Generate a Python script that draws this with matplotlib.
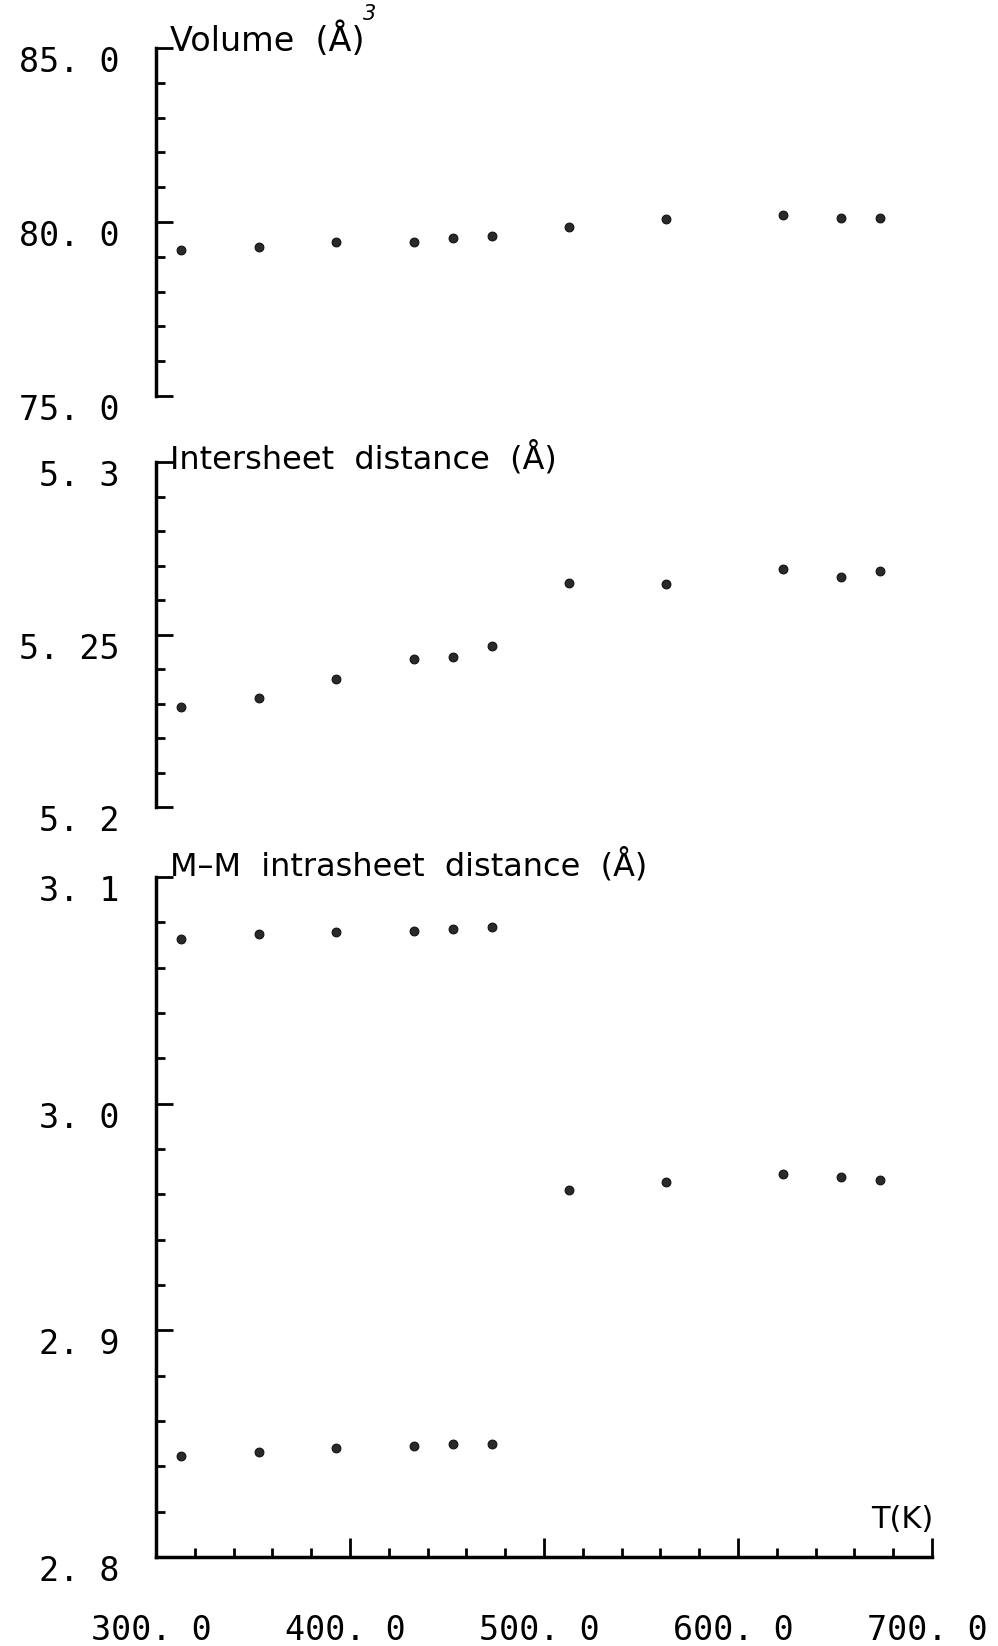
import matplotlib as mpl
mpl.use('Agg')
from matplotlib import pyplot as plt
from matplotlib.ticker import FixedLocator, MultipleLocator, FixedFormatter
from matplotlib.transforms import ScaledTranslation

# temperatures (K)
T = [313, 353, 393, 433, 453, 473, 513, 563, 623, 653, 673]
T_low = [313, 353, 393, 433, 453, 473]
T_high = [513, 563, 623, 653, 673]

# cell volume (A^3)
volume = [79.20, 79.27, 79.42, 79.43, 79.55, 79.59, 79.85, 80.09, 80.21, 80.12, 80.11]
# intersheet distance (A)
intersheet = [5.2289, 5.2317, 5.2372, 5.2429, 5.2436, 5.2466,
              5.2650, 5.2647, 5.2690, 5.2667, 5.2683]
# M-M intrasheet distances (A)
mm_long = [3.0725, 3.0749, 3.0757, 3.0763, 3.0769, 3.0778]
mm_short = [2.8446, 2.8465, 2.8479, 2.8489, 2.8498, 2.8498]
mm_high = [2.9620, 2.9654, 2.9688, 2.9677, 2.9665]

vol_ticks = [75, 80, 85]
vol_labels = ['75. 0', '80. 0', '85. 0']
inter_ticks = [5.2, 5.25, 5.3]
inter_labels = ['5. 2', '5. 25', '5. 3']
mm_ticks = [2.8, 2.9, 3.0, 3.1]
mm_labels = ['2. 8', '2. 9', '3. 0', '3. 1']
t_ticks = [300, 400, 500, 600, 700]
t_labels = ['300. 0', '400. 0', '500. 0', '600. 0', '700. 0']

DPI = 100
fig = plt.figure(figsize=(9.98, 16.46), dpi=DPI)

left, width = 0.1563, 0.7776
ax1 = fig.add_axes([left, 0.7594, width, 0.2114])
ax2 = fig.add_axes([left, 0.5097, width, 0.2096])
ax3 = fig.add_axes([left, 0.0541, width, 0.4131])

tickfont = dict(family='DejaVu Sans Mono', size=24)
mk = dict(ls='none', marker='o', ms=6.3, mfc='#2a2a2a', mec='#111111', mew=0.8)


def style(ax, ticks, labels, minor, lo, hi, xaxis=False):
    ax.set_xlim(300, 700)
    ax.set_ylim(lo, hi)
    for s in ['top', 'right']:
        ax.spines[s].set_visible(False)
    ax.spines['left'].set_linewidth(2.5)
    ax.spines['bottom'].set_linewidth(2.5)
    ax.spines['bottom'].set_visible(xaxis)
    ax.yaxis.set_major_locator(FixedLocator(ticks))
    ax.yaxis.set_major_formatter(FixedFormatter(labels))
    ax.yaxis.set_minor_locator(MultipleLocator(minor))
    ax.tick_params(axis='y', which='major', direction='in', length=12, width=2.0, pad=26)
    ax.tick_params(axis='y', which='minor', direction='in', length=6.5, width=2.0)
    for lab in ax.get_yticklabels():
        lab.set_fontfamily(tickfont['family'])
        lab.set_fontsize(tickfont['size'])
        lab.set_transform(lab.get_transform() + ScaledTranslation(0, -8 / 72, fig.dpi_scale_trans))
    if xaxis:
        ax.xaxis.set_major_locator(FixedLocator(t_ticks))
        ax.xaxis.set_major_formatter(FixedFormatter(t_labels))
        ax.xaxis.set_minor_locator(MultipleLocator(20))
        ax.tick_params(axis='x', which='major', direction='in', length=13.7, width=2.0, pad=41)
        ax.tick_params(axis='x', which='minor', direction='in', length=6.5, width=2.0)
        for lab in ax.get_xticklabels():
            lab.set_fontfamily(tickfont['family'])
            lab.set_fontsize(tickfont['size'])
            lab.set_transform(lab.get_transform() + ScaledTranslation(-3 / 72, 0, fig.dpi_scale_trans))
    else:
        ax.set_xticks([])
        ax.tick_params(axis='x', which='both', length=0)
    ax.patch.set_visible(False)


style(ax1, vol_ticks, vol_labels, 1.0, 75, 85)
style(ax2, inter_ticks, inter_labels, 0.01, 5.2, 5.3)
style(ax3, mm_ticks, mm_labels, 0.02, 2.8, 3.1, xaxis=True)

ax1.plot(T, volume, **mk)
ax2.plot(T, intersheet, **mk)
ax3.plot(T_low, mm_long, **mk)
ax3.plot(T_low, mm_short, **mk)
ax3.plot(T_high, mm_high, **mk)

ax1.annotate('Volume  (Å)', xy=(0, 1), xycoords='axes fraction', xytext=(10, -2),
             textcoords='offset points', fontsize=24, va='baseline', ha='left')
ax1.annotate('3', xy=(0, 1), xycoords='axes fraction', xytext=(149, 20),
             textcoords='offset points', fontsize=15, style='italic', va='baseline', ha='left')
ax2.annotate('Intersheet  distance  (Å)', xy=(0, 1), xycoords='axes fraction', xytext=(10, -5),
             textcoords='offset points', fontsize=23, va='baseline', ha='left')
ax3.annotate('M–M  intrasheet  distance  (Å)', xy=(0, 1), xycoords='axes fraction', xytext=(10, 1),
             textcoords='offset points', fontsize=23, va='baseline', ha='left')
ax3.annotate('T(K)', xy=(1, 0), xycoords='axes fraction', xytext=(1, 21),
             textcoords='offset points', fontsize=22, va='baseline', ha='right')

fig.savefig('out.png', dpi=DPI)
